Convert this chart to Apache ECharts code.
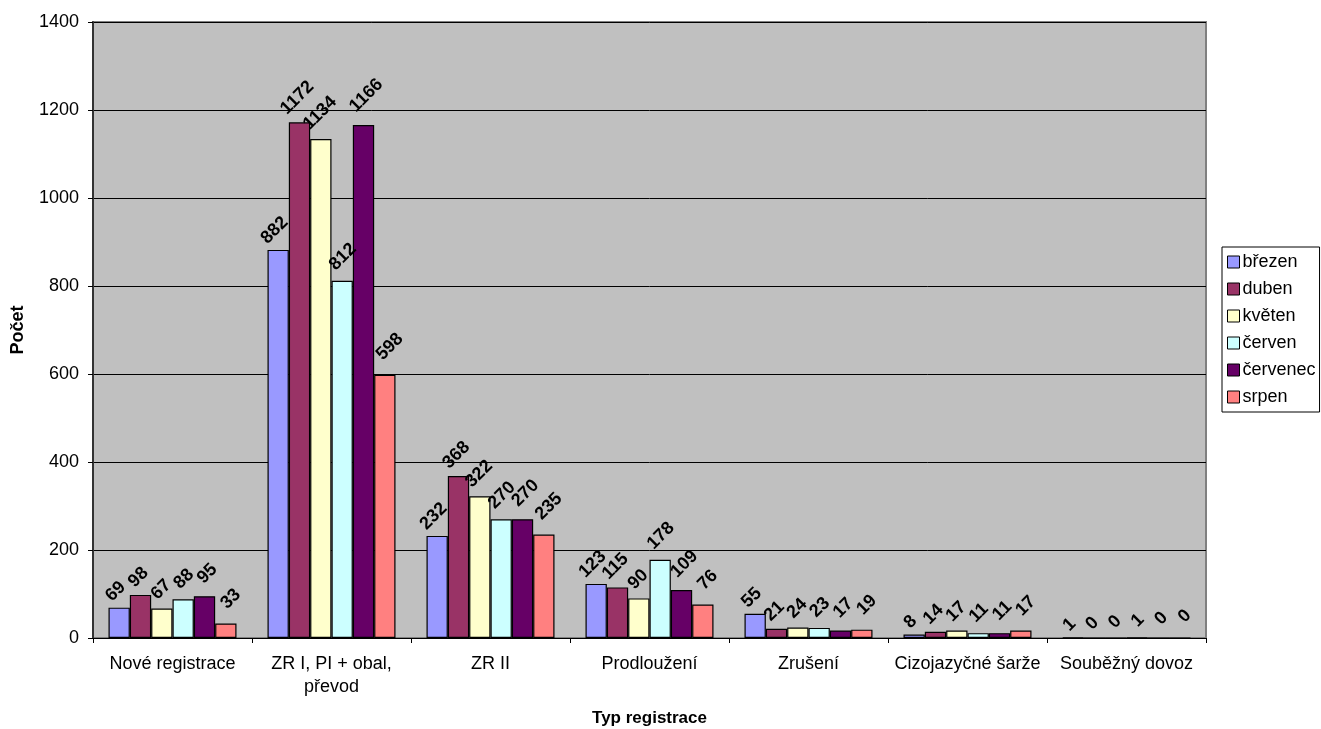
<!DOCTYPE html>
<html>
<head>
<meta charset="utf-8">
<script src="https://cdn.jsdelivr.net/npm/echarts@6/dist/echarts.min.js"></script>
<style>
  html, body { margin: 0; padding: 0; background: #ffffff; }
  #chart { width: 1321px; height: 729px; }
</style>
</head>
<body>
<div id="chart"></div>
<script>
// Registration counts by type, one series per month
const categories = ['Nové registrace', 'ZR I, PI + obal,\npřevod', 'ZR II', 'Prodloužení', 'Zrušení', 'Cizojazyčné šarže', 'Souběžný dovoz'];
const months = ['březen', 'duben', 'květen', 'červen', 'červenec', 'srpen'];
const brezen   = [69, 882, 232, 123, 55, 8, 1];
const duben    = [98, 1172, 368, 115, 21, 14, 0];
const kveten   = [67, 1134, 322, 90, 24, 17, 0];
const cerven   = [88, 812, 270, 178, 23, 11, 1];
const cervenec = [95, 1166, 270, 109, 17, 11, 0];
const srpen    = [33, 598, 235, 76, 19, 17, 0];
const yTicks = { min: 0, max: 1400, interval: 200 };

const seriesData = [brezen, duben, kveten, cerven, cervenec, srpen];
const colors = ['#9999FF', '#993366', '#FFFFCC', '#CCFFFF', '#660066', '#FF8080'];
// horizontal nudge of each series' rotated value labels
const labelShift = [-5, -3, -1, 1, 4, 7];
const FONT = '"Liberation Sans", Arial, sans-serif';

// a rotated label is centred on its anchor, so longer numbers sit a little higher
function labelDistance(v) {
  const n = String(v).length;
  return 8 + (n * 10 + 13) * 0.707 / 2;
}

const chart = echarts.init(document.getElementById('chart'), null, { renderer: 'canvas' });

chart.setOption({
  animation: false,
  backgroundColor: '#ffffff',
  textStyle: { fontFamily: FONT },
  grid: {
    left: 93, right: 115, top: 22, bottom: 91,
    outerBoundsMode: 'none',
    containLabel: false,
    show: true, backgroundColor: '#C0C0C0', borderColor: '#808080', borderWidth: 2
  },
  legend: {
    orient: 'vertical',
    left: 1222, top: 247,
    padding: [5, 4, 5, 5],
    itemGap: 7,
    itemWidth: 12, itemHeight: 12,
    backgroundColor: '#ffffff',
    borderColor: '#000000', borderWidth: 1, borderRadius: 0,
    icon: 'rect',
    itemStyle: { borderColor: '#000000', borderWidth: 1 },
    textStyle: { fontFamily: FONT, fontSize: 18, color: '#000000', padding: [0, 0, 0, -2], lineHeight: 20 },
    data: months
  },
  xAxis: {
    type: 'category',
    data: categories,
    name: 'Typ registrace',
    nameLocation: 'middle',
    nameGap: 72,
    nameTextStyle: { fontFamily: FONT, fontSize: 17, fontWeight: 'bold', color: '#000000' },
    axisLine: { show: true, lineStyle: { color: '#000000', width: 1 } },
    axisTick: { show: true, alignWithLabel: false, length: 5, lineStyle: { color: '#000000' } },
    axisLabel: { fontFamily: FONT, fontSize: 18, color: '#000000', margin: 15, lineHeight: 23, interval: 0 }
  },
  yAxis: {
    type: 'value',
    min: yTicks.min, max: yTicks.max, interval: yTicks.interval,
    name: 'Počet',
    nameLocation: 'middle',
    nameGap: 66,
    nameTextStyle: { fontFamily: FONT, fontSize: 18, fontWeight: 'bold', color: '#000000' },
    axisLine: { show: true, lineStyle: { color: '#333333', width: 2 } },
    axisTick: { show: true, length: 5, lineStyle: { color: '#000000' } },
    axisLabel: { fontFamily: FONT, fontSize: 18, color: '#000000', margin: 14, formatter: v => String(v) },
    splitLine: { show: true, lineStyle: { color: '#000000', width: 1 } }
  },
  series: months.map((m, i) => ({
    name: m,
    type: 'bar',
    data: seriesData[i].map(v => ({ value: v, label: { distance: labelDistance(v) } })),
    barGap: '0%',
    barCategoryGap: '19.5%',
    itemStyle: { color: colors[i], borderColor: '#000000', borderWidth: 1.2 },
    label: {
      show: true,
      position: 'top',
      distance: 23,
      offset: [labelShift[i], 0],
      rotate: 45,
      align: 'center',
      verticalAlign: 'middle',
      fontFamily: FONT,
      fontSize: 18,
      fontWeight: 'bold',
      color: '#000000'
    }
  }))
});
</script>
</body>
</html>
